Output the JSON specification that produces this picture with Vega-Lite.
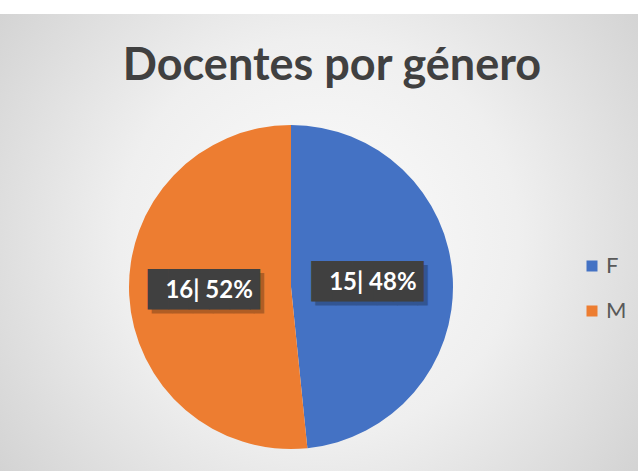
{
  "$schema": "https://vega.github.io/schema/vega-lite/v6.json",
  "autosize": "none",
  "width": 694,
  "height": 546,
  "padding": {"left": -56, "top": 14, "right": 0, "bottom": -89},
  "background": "#ffffff",
  "view": {
    "stroke": null,
    "fill": {
      "gradient": "radial",
      "x1": 0.54, "y1": 0.43, "r1": 0,
      "x2": 0.54, "y2": 0.43, "r2": 0.72,
      "stops": [
        {"offset": 0, "color": "#fcfcfc"},
        {"offset": 0.4, "color": "#efefef"},
        {"offset": 1, "color": "#c4c4c4"}
      ]
    }
  },
  "title": {
    "text": "Docentes por género",
    "font": "Lato",
    "fontSize": 45,
    "fontWeight": "bold",
    "color": "#404040",
    "anchor": "middle",
    "frame": "group",
    "baseline": "alphabetic",
    "offset": -111,
    "dx": 41
  },
  "data": {
    "values": [
      {"genero": "F", "docentes": 15, "etiqueta": "15| 48%"},
      {"genero": "M", "docentes": 16, "etiqueta": "16| 52%"}
    ]
  },
  "encoding": {
    "theta": {"field": "docentes", "type": "quantitative", "stack": true}
  },
  "layer": [
    {
      "mark": {"type": "arc", "radius": 162},
      "encoding": {
        "color": {
          "field": "genero",
          "type": "nominal",
          "scale": {"domain": ["F", "M"], "range": ["#4472C4", "#ED7D31"]},
          "legend": {
            "title": null,
            "orient": "none",
            "legendX": 637,
            "legendY": 241,
            "symbolType": "square",
            "symbolSize": 121,
            "symbolStrokeWidth": 0,
            "labelFont": "Lato",
            "labelFontSize": 22,
            "labelColor": "#595959",
            "labelOffset": 3,
            "rowPadding": 23,
            "padding": 0
          }
        }
      }
    },
    {
      "mark": {"type": "text", "radius": 82, "font": "DejaVu Sans Mono", "fontSize": 34, "baseline": "middle", "align": "center", "color": "#000000", "opacity": 0.25, "dx": 4, "dy": 4},
      "encoding": {
        "detail": {"field": "genero", "type": "nominal"},
        "text": {"value": "█████▌"}
      }
    },
    {
      "mark": {"type": "text", "radius": 82, "font": "DejaVu Sans Mono", "fontSize": 34, "baseline": "middle", "align": "center", "color": "#404040"},
      "encoding": {
        "detail": {"field": "genero", "type": "nominal"},
        "text": {"value": "█████▌"}
      }
    },
    {
      "mark": {"type": "text", "radius": 82, "font": "Lato", "fontSize": 24, "fontWeight": "bold", "baseline": "middle", "align": "center", "color": "#ffffff"},
      "encoding": {
        "detail": {"field": "genero", "type": "nominal"},
        "text": {"field": "etiqueta", "type": "nominal"}
      }
    }
  ]
}
